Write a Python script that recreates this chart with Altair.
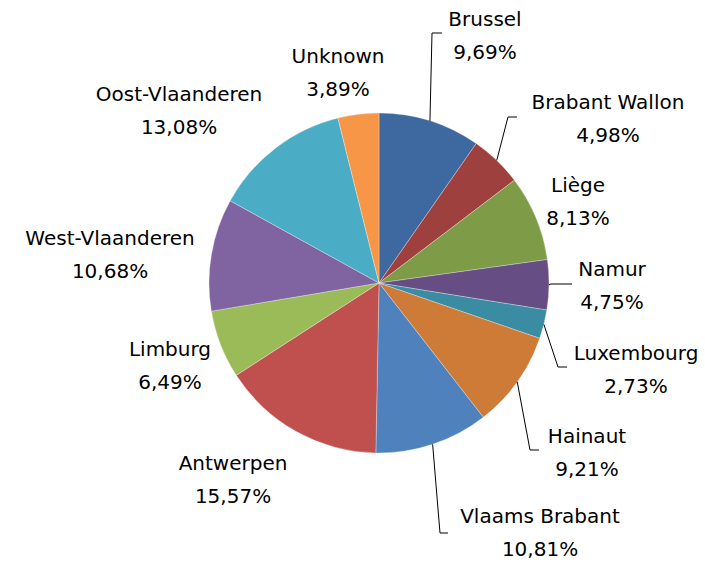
import math
import altair as alt
import pandas as pd

# ---- data ----
regions = ["Brussel", "Brabant Wallon", "Liège", "Namur", "Luxembourg", "Hainaut",
           "Vlaams Brabant", "Antwerpen", "Limburg", "West-Vlaanderen",
           "Oost-Vlaanderen", "Unknown"]
shares = [9.69, 4.98, 8.13, 4.75, 2.73, 9.21, 10.81, 15.57, 6.49, 10.68, 13.08, 3.89]
colors = ["#3D69A0", "#9E413E", "#7E9B47", "#664D84", "#3A8CA3", "#CF7B38",
          "#4F81BD", "#C0504D", "#9BBB59", "#8064A2", "#4BACC6", "#F79646"]

# ---- layout (page pixels) ----
W, H = 689, 552
M = 8
CX, CY, R = 379 - M, 283 - M, 170
# centre of each two-line label (name line)
label_pos = [(485, 20), (608, 103), (578, 186), (612, 270), (636, 354), (587, 437),
             (540, 517), (233, 464), (170, 350), (110, 239), (179, 95), (338, 57)]
LINE_GAP = 33
# leader lines: region -> (elbow x, elbow y, end x)
leaders = {
    "Brussel": (432, 33, 442),
    "Brabant Wallon": (508, 117, 517),
    "Namur": (551, 284, 572),
    "Luxembourg": (558, 367, 567),
    "Hainaut": (530, 450, 539),
    "Vlaams Brabant": (440, 533, 448),
}

df = pd.DataFrame({"region": regions, "share": shares, "idx": list(range(len(regions)))})
df["pct"] = [f"{v:.2f}".replace(".", ",") + "%" for v in shares]
df["lx"] = [p[0] - M for p in label_pos]
df["ly"] = [p[1] - M for p in label_pos]
df["ly2"] = df["ly"] + LINE_GAP

total = sum(shares)
cum = 0.0
rows = []
for name, v in zip(regions, shares):
    mid = (cum + v / 2) / total * 2 * math.pi
    cum += v
    if name in leaders:
        ex, ey, endx = leaders[name]
        sx = CX + R * math.sin(mid)
        sy = CY - R * math.cos(mid)
        rows += [
            {"region": name, "k": 0, "x": sx, "y": sy},
            {"region": name, "k": 1, "x": ex - M, "y": ey - M},
            {"region": name, "k": 2, "x": endx - M, "y": ey - M},
        ]
lines_df = pd.DataFrame(rows)

xs = alt.Scale(domain=[0, W], range=[0, W])
ys = alt.Scale(domain=[0, H], range=[0, H])

pie = alt.Chart(df).mark_arc(radius=R, stroke="#ffffff", strokeWidth=0.3).encode(
    theta=alt.Theta("share:Q", stack=True),
    order=alt.Order("idx:Q"),
    color=alt.Color("region:N", scale=alt.Scale(domain=regions, range=colors), legend=None),
    x=alt.value(CX),
    y=alt.value(CY),
)

lead = alt.Chart(lines_df).mark_line(color="#000000", strokeWidth=1).encode(
    x=alt.X("x:Q", scale=xs, axis=None),
    y=alt.Y("y:Q", scale=ys, axis=None),
    detail="region:N",
    order="k:Q",
)

font = dict(font="DejaVu Sans", fontSize=20, color="#000000", align="center", baseline="middle")
names = alt.Chart(df).mark_text(**font).encode(
    x=alt.X("lx:Q", scale=xs, axis=None),
    y=alt.Y("ly:Q", scale=ys, axis=None),
    text="region:N",
)
pcts = alt.Chart(df).mark_text(**font).encode(
    x=alt.X("lx:Q", scale=xs, axis=None),
    y=alt.Y("ly2:Q", scale=ys, axis=None),
    text="pct:N",
)

chart = alt.layer(pie, lead, names, pcts).properties(
    width=W, height=H, padding=0, autosize="none", background="#ffffff"
).configure_view(stroke=None)

chart.save("out.html", embed_options={"renderer": "svg", "actions": False})
